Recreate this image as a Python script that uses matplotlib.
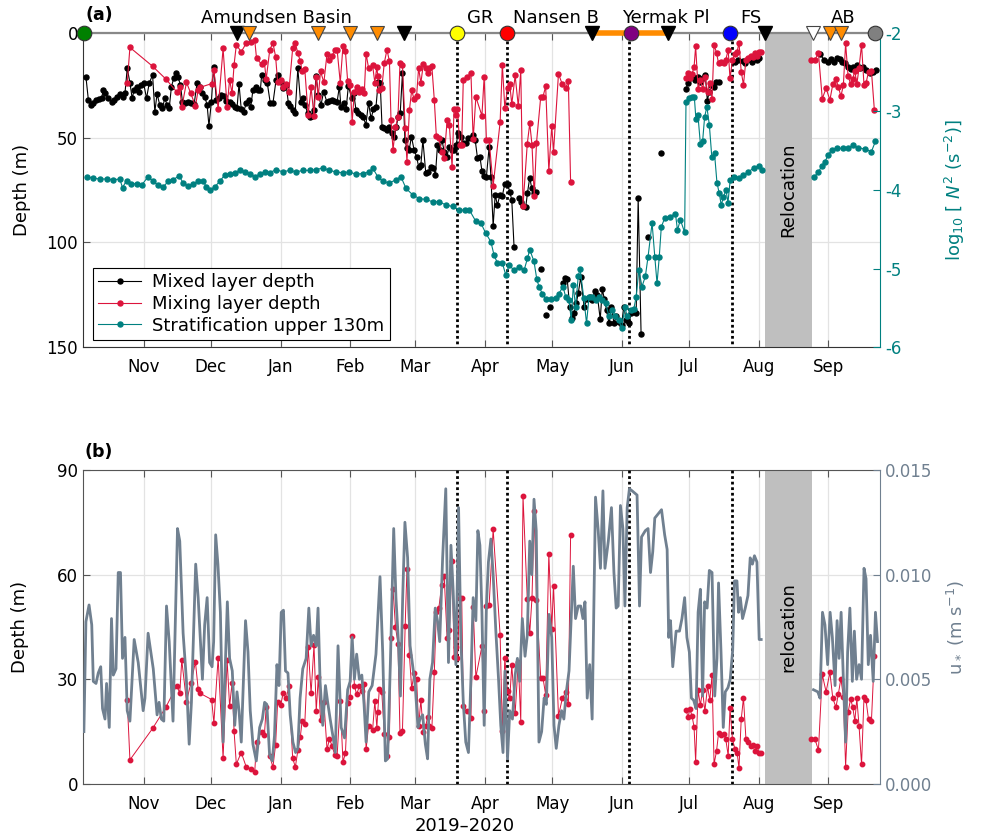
import numpy as np
import matplotlib
matplotlib.use('Agg')
import matplotlib.pyplot as plt
import matplotlib.dates as mdates
import matplotlib.transforms as mtransforms

plt.rcParams['font.family'] = ['DejaVu Sans']
plt.rcParams['axes.unicode_minus'] = False

nan = np.nan
T0 = np.datetime64('2019-10-05')
XLIM_DAYS = (0, 355)

# ---------------- data (day offsets from 2019-10-05) ----------------
mld_day = [1.3, 2.4, 3.4, 4.6, 5.8, 7.1, 8.3, 9.0, 9.8, 11.3, 12.7, 13.8, 15.0, 16.4, 17.6, 18.7, 19.7, 20.9,
           21.9, 22.8, 23.9, 25.0, 26.0, 27.0, 28.3, 29.5, 31.0, 32.0, 33.0, 34.2, 35.4, 36.4, 37.5, 38.4, 39.4,
           40.4, 41.3, 42.3, 43.4, 44.3, 45.5, 46.8, 48.3, 49.5, 50.8, 52.0, 53.2, 54.2, 55.3, 56.1, 57.2, 58.2,
           59.4, 60.6, 61.6, 62.8, 63.9, 65.3, 66.5, 67.6, 68.6, 69.5, 70.5, 71.6, 72.7, 73.8, 74.7, 75.7, 76.9,
           77.9, 79.0, 79.6, 80.9, 82.1, 83.4, 84.6, 86.0, 86.8, 88.0, 89.0, 90.5, 91.5, 92.4, 93.4, 94.5, 95.7,
           96.9, 97.9, 98.9, 100.1, 100.9, 101.9, 102.8, 103.8, 104.9, 106.0, 107.2, 108.6, 109.7, 110.8, 112.0,
           113.2, 114.2, 114.9, 116.1, 117.2, 118.2, 119.7, 120.6, 121.6, 122.6, 123.8, 124.9, 126.0, 127.2,
           128.3, 129.4, 130.5, 131.5, 132.4, 133.2, 134.2, 135.4, 136.4, 137.6, 138.6, 139.5, 140.4, 141.3,
           142.3, 143.4, 144.3, 145.3, 146.3, 147.5, 148.6, 149.5, 150.5, 151.4, 152.7, 153.7, 154.9, 156.1,
           157.0, 157.9, 158.9, 159.9, 160.9, 162.1, 163.1, 164.3, 165.3, 166.2, 167.1, 168.3, 169.3, 170.5,
           171.5, 172.7, 173.7, 174.7, 175.7, 176.8, 177.7, 178.7, 179.7, 180.9, 181.7, 182.7, 183.6, 184.6,
           185.7, 186.8, 187.9, 189.1, 190.1, 191.0, 192.0, 193.0, 194.0, 195.0, 196.0, 197.2, 198.0, 199.0,
           199.9, 200.9, 201.7, 203.0, 204.2, 205.0, 206.1, 207.0, 208.0, 210.0, 213.8, 214.7, 215.7, 216.8,
           217.7, 218.7, 219.7, 220.6, 221.7, 223.2, 224.6, 225.7, 226.9, 228.0, 229.1, 230.4, 231.3, 232.3,
           233.2, 234.3, 235.4, 236.5, 237.5, 238.7, 239.9, 240.9, 242.0, 243.1, 244.3, 245.4, 246.4, 247.3,
           248.6, 250.0, 251.7, 254.0, 257.6, 262.0, 268.6, 269.5, 270.5, 271.6, 272.8, 273.9, 275.0, 276.0,
           277.2, 278.1, 279.0, 279.9, 280.9, 281.9, 283.1, 285.0, 290.5, 291.8, 293.8, 295.0, 296.5, 297.9,
           299.0, 300.1, 301.2, 310.0, 328.3, 330.2, 331.7, 333.2, 334.7, 335.7, 337.2, 338.2, 339.4, 340.6,
           342.1, 343.1, 344.6, 346.1, 347.6, 349.0, 350.5, 352.0, 353.2]
mld_val = [20.9, 32.0, 34.4, 33.6, 32.0, 31.5, 31.2, 27.2, 28.8, 31.2, 32.8, 32.0, 30.4, 29.3, 30.4, 28.8, 16.9, 23.7,
           31.2, 27.2, 26.0, 28.0, 24.8, 24.0, 31.2, 24.0, 20.0, 37.6, 29.1, 34.4, 36.0, 31.2, 34.4, 36.0, 25.6,
           21.7, 19.0, 20.9, 24.8, 32.8, 33.6, 32.8, 33.6, 34.0, 24.0, 25.6, 28.8, 30.4, 34.4, 44.4, 32.8, 16.1,
           32.0, 31.2, 29.6, 30.1, 32.3, 32.8, 34.0, 35.2, 36.0, 24.4, 36.5, 37.6, 33.6, 32.0, 35.5, 27.2, 25.6,
           27.2, 27.2, 20.0, 22.5, 24.0, 33.3, 33.6, 22.5, 20.0, 23.2, 26.4, 24.8, 33.6, 34.9, 36.8, 38.4, 16.9,
           32.8, 31.2, 34.4, 38.4, 40.3, 39.6, 36.8, 20.5, 29.6, 34.4, 28.0, 32.8, 32.3, 32.0, 32.3,
           32.8, 25.6, 35.2, 33.3, 36.5, 25.3, 31.2, 28.8, 36.8, 38.0, 39.2, 40.3, 43.9, 33.3,
           40.8, 36.5, 35.5, 23.2, 24.0, 44.7, 45.5, 46.3, 45.1, 47.9, 49.5, 45.1, 40.0, 38.4,
           19.3, 51.1, 55.1, 55.9, 49.5, 55.9, 59.1, 63.9, 63.1, 51.1, 67.0, 66.2, 63.9, 64.6,
           67.8, 53.5, 55.9, 51.1, 56.7, 59.1, 54.3, 55.9, 55.9, 53.5, 47.9, 49.5, 52.7, 52.7,
           50.3, 50.3, 48.7, 51.1, 59.6, 59.1, 65.8, 68.2, 68.6, 54.6, 68.6, 92.2, 77.4, 82.2,
           77.4, 77.7, 72.1, 72.1, 75.8, 79.8, 102.0, nan, 79.0, 80.6, 82.5, 83.3, 76.3, 69.1,
           74.2, 76.6, 75.8, nan, 112.9, nan, 134.7, nan, 131.0, nan, 119.3, 117.2, 117.7, 130.7,
           136.3, 133.9, 129.1, 124.4, 116.7, 130.7, 127.2, 126.0, 127.5, 123.1, 125.2, 136.8, 122.5, 127.2,
           132.3, 138.7, 130.7, 138.7, 135.2, 137.9, 139.5, 130.7, 137.1, 138.7, 133.9, 132.6, 133.9, 79.0,
           144.0, nan, 97.3, nan, 57.4, nan, 26.8, 24.0, 21.7, 20.9, 22.5, 20.9, 23.3, 21.7,
           20.1, 32.3, 28.0, 24.8, 25.6, 23.6, 23.3, nan, 14.0, 13.0, 13.2, 14.5, 12.5, 13.7,
           12.0, 12.9, 12.0, nan, 10.2, 12.9, 13.7, 12.6, 13.7, 12.1, 12.6, 13.7, 14.5, 16.1,
           17.3, 16.1, 15.3, 16.9, 16.4, 17.7, 19.3, 18.5, 17.7]

mix_day = [19.7, 20.9, 31.0, 37.0, 41.8, 43.1, 44.0, 46.1, 48.0, 50.1, 51.3, 52.1, 57.3, 58.3, 60.2, 62.4, 64.2,
           65.3, 66.4, 67.3, 68.3, 70.5, 72.7, 74.8, 76.5, 77.3, 79.6, 80.8, 81.6, 83.2, 84.6, 85.8, 86.7, 88.0,
           89.2, 90.5, 91.7, 93.4, 94.6, 95.7, 96.8, 97.6, 98.8, 100.3, 101.6, 102.9, 103.9, 104.8, 105.8, 107.3,
           108.7, 109.8, 110.9, 112.2, 113.2, 114.6, 115.8, 116.9, 117.9, 119.0, 119.9, 120.9, 121.9, 123.1,
           124.2, 125.3, 126.1, 127.2, 129.0, 130.0, 130.9, 131.3, 132.0, 133.1, 134.2, 135.4, 136.5, 137.2,
           138.1, 139.2, 140.3, 141.2, 142.3, 143.5, 144.3, 145.4, 146.4, 147.5, 148.6, 149.5, 150.5, 151.6,
           152.7, 153.5, 154.3, 155.4, 156.5, 157.4, 158.5, 159.8, 160.9, 162.2, 163.2, 164.4, 165.3, 166.3,
           166.8, 167.8, 168.7, 169.4, 171.2, 172.8, 173.8, 175.0, 177.7, 178.7, 179.7, 180.9, 182.7, 185.8,
           186.8, 187.9, 189.1, 190.1, 191.0, 192.5, 193.9, 195.0, 196.0, 197.9, 199.0, 200.0, 201.0, 202.0,
           203.9, 204.9, 206.1, 207.5, 208.8, 209.6, 211.8, 213.5, 215.0, 216.2, 217.2, 240.0,
           268.6, 269.5, 270.3, 271.3, 272.2, 272.9, 274.0, 275.0, 276.0, 277.0, 278.2, 279.2, 280.2, 281.1,
           282.2, 283.1, 284.4, 285.4, 286.3, 287.4, 288.2, 289.3, 290.4, 291.4, 292.2, 293.2, 294.2, 295.3,
           296.3, 297.4, 298.5, 299.2, 300.2, 301.2, 301.9, 310.0,
           324.3, 326.0, 327.6, 329.3, 331.0, 332.7, 334.0, 335.4, 336.5, 337.6, 338.7, 339.7, 340.8, 341.9,
           342.9, 343.8, 344.7, 345.7, 346.8, 347.9, 348.8, 349.9, 351.2, 352.5]
mix_val = [24.0, 6.9, 15.9, 22.1, 28.2, 26.0, 35.5, 23.6, 28.8, 34.9, 27.2, 26.0, 24.2, 17.5, 36.2, 7.4, 35.5,
           22.3, 28.9, 15.1, 5.7, 9.0, 4.9, 4.3, 3.4, 12.1, 15.0, 13.9, 22.1, 8.0, 4.8, 11.3, 23.5, 22.5,
           26.0, 24.5, 28.0, 7.3, 4.9, 9.6, 13.5, 18.0, 17.3, 39.3, 26.0, 39.8, 20.8, 30.6, 18.3, 23.6,
           9.9, 12.9, 11.0, 8.2, 8.1, 23.7, 6.3, 8.8, 23.1, 25.0, 42.4, 28.1, 25.7, 28.0,
           26.6, 28.6, 9.9, 16.7, 15.5, 23.7, 16.1, 20.7, 27.1, 26.3, 14.4, 8.0, 13.5, 41.7,
           55.9, 45.0, 40.2, 14.5, 15.2, 45.2, 61.5, 36.9, 27.4, 31.7, 30.1, 16.6, 24.0, 14.8,
           16.6, 19.3, 16.5, 15.9, 32.2, 49.4, 50.4, 57.0, 59.5, 41.7, 44.0, 64.0, 36.3, 39.2,
           36.1, 53.4, 53.4, 22.3, 20.9, 19.0, 50.8, 30.6, 39.5, 20.8, 51.1, 51.2, 73.0, 42.7,
           15.1, 36.0, 26.5, 24.5, 34.0, 20.3, 35.0, 17.9, 82.5, 53.0, 43.2, 53.3, 78.1, 52.6,
           30.4, 30.4, 25.5, 66.0, 44.5, 56.7, 19.5, 24.5, 26.3, 23.0, 71.3, nan,
           21.3, 19.1, 21.5, 19.5, 16.3, 6.4, 26.8, 22.6, 26.8, 20.8, 28.0, 24.0, 31.3, 5.7,
           9.4, 14.5, 13.9, 14.3, 12.9, 8.1, 21.7, 12.9, 10.0, 8.9, 4.6, 18.5, 24.7, 12.9,
           12.0, 11.0, 11.3, 9.4, 11.0, 9.0, 9.0, nan,
           12.9, 12.9, 9.7, 31.4, 26.4, 32.0, 24.5, 22.0, 25.9, 30.2, 25.0, 5.0, 20.5, 24.3,
           22.0, 18.0, 24.5, 16.5, 5.6, 25.0, 24.0, 18.5, 18.0, 36.7]

n2_day = [1.6, 4.6, 7.6, 10.5, 13.5, 16.4, 17.6, 19.4, 21.6, 23.9, 26.1, 29.0, 31.3, 33.5, 35.7, 38.0, 40.1, 42.8,
          44.6, 46.8, 49.0, 51.3, 53.5, 55.0, 56.4, 58.7, 60.9, 63.1, 65.3, 67.6, 69.8, 72.0, 74.2, 76.4, 78.7,
          80.9, 83.1, 86.1, 89.0, 92.0, 95.0, 97.9, 100.9, 103.9, 106.8, 109.8, 112.7, 115.7, 118.7, 121.6,
          124.6, 127.6, 129.0, 131.3, 133.5, 136.4, 139.4, 141.6, 143.9, 146.8, 149.8, 152.7, 155.7, 158.7,
          161.6, 164.6, 167.6, 170.0, 172.0, 175.0, 177.2, 179.4, 181.7, 183.1, 184.6, 186.8, 188.3, 189.8,
          192.0, 194.3, 196.5, 198.0, 199.0, 200.9, 202.1, 203.1, 204.6, 206.1, 208.3, 210.6, 212.0, 213.8,
          215.0, 216.5, 217.5, 218.4, 219.4, 220.6, 221.4, 223.1, 224.3, 225.4, 226.9, 228.3, 229.8, 231.3,
          232.8, 234.3, 235.7, 237.2, 238.7, 239.9, 241.4, 242.4, 243.9, 245.4, 246.4, 247.6, 249.0, 250.5,
          251.7, 253.5, 254.7, 255.7, 256.7, 257.6, 259.1, 261.6, 263.9, 264.8, 266.1, 268.0, 268.6, 269.8,
          271.2, 272.3, 273.0, 273.9, 275.0, 276.0, 276.9, 277.9, 279.0, 280.1, 281.3, 282.4, 283.4, 284.3,
          285.3, 286.4, 287.3, 288.3, 289.8, 292.0, 294.2, 296.4, 298.7, 300.9, 302.4, 314.0,
          325.8, 327.6, 329.0, 330.5, 332.0, 333.5, 335.7, 338.7, 340.9, 343.1, 345.3, 348.3, 351.2, 353.0]
n2_val = [-3.83, -3.85, -3.86, -3.86, -3.87, -3.86, -3.97, -3.88, -3.92, -3.92, -3.94, -3.83, -3.89, -3.94, -3.96,
          -3.89, -3.87, -3.82, -3.91, -3.95, -3.92, -3.89, -3.89, -3.96, -4.00, -3.96, -3.89, -3.81, -3.80, -3.78,
          -3.75, -3.77, -3.79, -3.83, -3.80, -3.77, -3.78, -3.74, -3.77, -3.75, -3.77, -3.75, -3.75, -3.74, -3.72,
          -3.75, -3.77, -3.78, -3.77, -3.80, -3.79, -3.77, -3.72, -3.83, -3.89, -3.91, -3.87, -3.83, -3.98, -4.06,
          -4.11, -4.12, -4.15, -4.15, -4.19, -4.21, -4.25, -4.26, -4.25, -4.40, -4.42, -4.55, -4.66, -4.83, -4.93,
          -4.93, -5.08, -4.96, -5.02, -4.98, -5.02, -4.87, -4.76, -4.91, -5.13, -5.23, -5.32, -5.39, -5.39, -5.38,
          -5.32, -5.23, -5.36, -5.40, -5.66, -5.21, -5.49, -5.10, -5.00, -5.38, -5.70, -5.36, -5.36, -5.40, -5.36,
          -5.40, -5.44, -5.61, -5.53, -5.61, -5.66, -5.76, -5.49, -5.61, -5.53, -5.51, -5.36, -5.02, -5.23, -5.10,
          -4.85, -4.42, -4.85, -5.19, -4.85, -4.47, -4.36, -4.34, -4.30, -4.51, -4.38, -4.54, -2.88, -2.83,
          -2.81, -2.81, -3.09, -3.04, -3.41, -3.38, -3.07, -2.94, -3.17, -3.58, -3.53, -3.91, -4.04, -4.19,
          -4.09, -4.00, -4.16, -3.87, -3.83, -3.85, -3.81, -3.77, -3.72, -3.69, -3.74, nan,
          -3.83, -3.77, -3.70, -3.64, -3.55, -3.49, -3.47, -3.47, -3.46, -3.43, -3.46, -3.48, -3.51, -3.38]

ustar_day = [0.4, 1.3, 2.7, 3.9, 4.6, 5.8, 6.8, 7.9, 8.7, 9.8, 10.5, 11.7, 12.7, 13.5, 14.7, 15.7, 16.7, 17.6,
             18.7, 19.7, 20.9, 22.8, 24.6, 26.8, 27.6, 29.0, 31.3, 33.0, 33.9, 34.9, 36.0, 37.2, 38.4, 40.1,
             42.1, 43.1, 44.6, 46.1, 47.3, 48.3, 50.2, 51.3, 53.2, 54.2, 55.3, 56.4, 57.5, 58.2, 59.1, 60.1,
             61.2, 62.4, 63.4, 64.3, 65.3, 66.5, 67.6, 68.6, 69.5, 70.5, 71.6, 72.4, 73.5, 74.5, 75.7, 77.2,
             78.7, 79.9, 80.9, 81.9, 83.1, 84.3, 85.3, 86.4, 87.3, 88.3, 89.3, 90.2, 91.3, 92.3, 93.5, 94.7,
             95.7, 96.7, 97.9, 99.4, 100.6, 101.6, 102.7, 103.9, 104.7, 105.6, 106.8, 108.0, 109.0, 110.1,
             111.3, 112.4, 113.6, 115.0, 116.5, 117.9, 119.0, 119.9, 120.9, 121.9, 123.1, 124.2, 125.2, 126.1,
             127.3, 128.8, 130.5, 132.3, 133.5, 134.7, 135.7, 136.9, 138.4, 139.4, 140.5, 141.4, 142.4, 143.4,
             144.6, 145.7, 146.8, 148.0, 149.2, 150.1, 151.3, 152.5, 153.5, 154.5, 155.7, 156.9, 157.9, 158.9,
             160.2, 161.6, 162.8, 163.9, 164.9, 166.1, 167.3, 168.3, 169.4, 170.5, 171.7, 172.8, 173.8, 175.0,
             175.9, 176.8, 177.7, 178.7, 179.7, 180.6, 181.7, 182.7, 183.9, 185.1, 186.1, 187.1, 188.0, 189.1,
             190.1, 191.3, 192.5, 193.5, 194.5, 195.7, 196.9, 197.9, 199.0, 199.9, 200.9, 201.9, 203.1, 204.3,
             205.4, 206.4, 207.6, 208.8, 209.8, 210.8, 212.0, 213.2, 214.2, 215.3, 216.5, 217.7, 218.4, 219.4,
             220.6, 221.7, 222.7, 223.6, 224.6, 225.7, 226.8, 228.3, 229.5, 230.5, 231.6, 232.5, 234.0, 235.4,
             236.5, 237.5, 238.4, 239.4, 240.5, 241.4, 242.4, 243.4, 244.6, 246.8, 247.9, 248.8, 250.5, 251.7,
             252.8, 253.8, 254.7, 257.7, 259.1, 260.2, 260.9, 261.7, 262.7, 264.2, 265.7, 266.8, 268.0, 269.0,
             270.1, 271.0, 272.0, 273.1, 274.0, 275.0, 276.0, 276.9, 278.0, 279.0, 280.2, 281.4, 282.4, 283.1,
             284.2, 285.2, 286.1, 287.3, 288.3, 289.4, 290.2, 291.3, 292.0, 292.8, 293.8, 295.0, 296.2, 297.2,
             298.2, 299.1, 300.2, 301.2, 302.1, 310.0, 325.4, 327.3, 328.3, 329.4, 330.5, 331.7, 332.8, 333.8,
             335.0, 335.9, 336.8, 337.7, 338.7, 339.7, 340.6, 341.6, 342.7, 343.6, 344.6, 345.7, 346.8, 347.9,
             348.8, 349.8, 350.8, 352.0, 353.0, 353.9]
ustar_val = [.0025, .00775, .00855, .0076, .0049, .0048, .0053, .0056, .0036, .0031, .0048, .0027, .0079, .0052,
             .0055, .0101, .0101, .0060, .0070, .0035, .0030, .0069, .0058, .0035, .0041, .0072, .0055, .0033,
             .0039, .0031, .0030, .0085, .0068, .0030, .0122, .0116, .0072, .0049, .0019, .0039, .0105, .0089,
             .0050, .0076, .0089, .0058, .0056, .0068, .0119, .0105, .0082, .0020, .0057, .0087, .0060, .0054,
             .0028, .0044, .0035, .0020, .0054, .0078, .0063, .0035, .0019, .0011, .0027, .0031, .0039, .0038,
             .0014, .0011, .0023, .0057, .0047, .0082, .0083, .0054, .0053, .0033, .0020, .0015, .0017, .0041,
             .0055, .0060, .0084, .0066, .0071, .0066, .0084, .0049, .0028, .0047, .0039, .0031, .0023, .0015,
             .0066, .0027, .0022, .0045, .0049, .0070, .0050, .0062, .0050, .0052, .0038, .0020, .0044, .0047,
             .0062, .0099, .0063, .0011, .0012, .0057, .0122, .0089, .0068, .0042, .0089, .0125, .0108, .0066,
             .0057, .0047, .0027, .0031, .0033, .0019, .0012, .0050, .0058, .0084, .0078, .0068, .0108, .0141,
             .0058, .0114, .0092, .0057, .0132, .0070, .0039, .0020, .0015, .0050, .0089, .0078, .0121, .0114,
             .0082, .0028, .0085, .0106, .0117, .0100, .0073, .0050, .0028, .0015, .0054, .0012, .0035, .0031,
             .0052, .0060, .0049, .0079, .0061, .0071, .0116, .0100, .0136, .0121, .0020, .0025, .0041, .0038,
             .0081, .0070, .0028, .0017, .0028, .0035, .0031, .0044, .0054, .0085, .0104, .0079, .0085, .0085,
             .0079, .0087, .0041, .0057, .0031, .0137, .0121, .0103, .0140, .0103, .0116, .0132, .0101, .0084,
             .0085, .0133, .0122, .0085, .0132, .0141, .0140, .0138, .0085, .0118, .0121, .0122, .0101, .0111,
             .0127, .0131, .0119, .0112, .0070, .0078, .0056, .0073, .0073, .0079, .0089, .0070, .0063, .0041,
             .0040, .0036, .0082, .0093, .0042, .0087, .0084, .0102, .0101, .0042, .0060, .0096, .0063, .0027,
             .0044, .0046, .0050, .0064, .0097, .0097, .0082, .0089, .0079, .0084, .0090, .0108, .0105, .0109,
             .0106, .0069, .0069, nan, .0045, .0044, .0041, .0082, .0076, .0057, .0082, .0070, .0047, .0078,
             .0060, .0082, .0050, .0020, .0063, .0084, .0049, .0073, .0050, .0057, .0050, .0103, .0098, .0057,
             .0071, .0049, .0082, .0068]

# events along the drift
circle_day = [0.4, 166.7, 188.9, 244.0, 288.4, 352.9]
circle_col = ['#008000', '#ffff00', '#ff0000', '#800080', '#0000ff', '#808080']
tri_black_day = [68.4, 143.1, 226.7, 260.4, 303.6]
tri_orange_day = [73.8, 104.9, 119.1, 131.1, 332.9, 337.8]
tri_white_day = [325.3]
orange_bar_days = [226.7, 260.4]
dotted_days = [166.7, 188.9, 243.1, 288.9]
relocation_days = [303.6, 324.9]
region_labels = ['Amundsen Basin', 'GR', 'Nansen B', 'Yermak Pl', 'FS', 'AB']
region_days = [86.2, 177.0, 210.7, 259.6, 297.3, 338.7]

TEAL = '#008080'
CRIMSON = '#dc143c'
SLATE = '#708090'
ORANGE = '#ff8c00'


def dn(days):
    return mdates.date2num(T0) + np.asarray(days, dtype=float)


fig = plt.figure(figsize=(9.81, 8.39), dpi=100)
axa = fig.add_axes([0.0846, 0.5864, 0.8124, 0.3743])
axb = fig.add_axes([0.0846, 0.0656, 0.8124, 0.3743])

for ax in (axa, axb):
    ax.set_xlim(dn(XLIM_DAYS[0]), dn(XLIM_DAYS[1]))
    ax.xaxis.set_major_locator(mdates.MonthLocator())
    ax.xaxis.set_major_formatter(mdates.DateFormatter('%b'))
    ax.grid(True, color='#e3e3e3', lw=0.9)
    ax.set_axisbelow(True)
    ax.tick_params(axis='both', direction='in', labelsize=12, length=5, top=True, width=0.8,
                   color='#555555')
    ax.tick_params(axis='x', pad=8)
    ax.spines['right'].set_visible(False)

# ---------------- panel a ----------------
axa.set_ylim(150, 0)
axa.set_yticks([0, 50, 100, 150])
axa.set_ylabel('Depth (m)', fontsize=13, labelpad=11)
axa.spines['top'].set_color('#888888')
axa.spines['top'].set_linewidth(1.6)
axa.spines['left'].set_color('#333333')
axa.spines['bottom'].set_color('#333333')

axa.axvspan(dn(relocation_days[0]), dn(relocation_days[1]), color='#bfbfbf', zorder=1, lw=0)
axa.text(dn(np.mean(relocation_days)), 75, 'Relocation', rotation=90, ha='center', va='center', fontsize=13)
for d in dotted_days:
    axa.vlines(dn(d), 4, 150, colors='black', linestyles=(0, (1, 1)), lw=2, zorder=3)

l_mld, = axa.plot(dn(mld_day), mld_val, '-', color='black', lw=0.8, marker='o', ms=3.6, zorder=4)
l_mix, = axa.plot(dn(mix_day), mix_val, '-', color=CRIMSON, lw=0.8, marker='o', ms=3.6, zorder=4)

axr = axa.twinx()
axr.set_ylim(-6, -2)
axr.set_yticks([-2, -3, -4, -5, -6])
axr.tick_params(axis='y', direction='in', labelsize=12, colors=TEAL, length=5)
for s in ('top', 'left', 'bottom'):
    axr.spines[s].set_visible(False)
axr.spines['right'].set_color(TEAL)
axr.set_ylabel(r'log$_{10}$ [ $N^2$ (s$^{-2}$)]', fontsize=13, color=TEAL, labelpad=30)
l_n2, = axr.plot(dn(n2_day), n2_val, '-', color=TEAL, lw=0.8, marker='o', ms=3.6, zorder=3)

# event markers along the top
axr.plot(dn(orange_bar_days), [-2, -2], color=ORANGE, lw=4, clip_on=False, zorder=5,
         solid_capstyle='butt')
for d in tri_black_day:
    axr.plot(dn(d), -2, marker='v', ms=10, mfc='black', mec='black', clip_on=False, zorder=6)
for d in tri_orange_day:
    axr.plot(dn(d), -2, marker='v', ms=10, mfc=ORANGE, mec='#444444', mew=0.8, clip_on=False, zorder=6)
for d in tri_white_day:
    axr.plot(dn(d), -2, marker='v', ms=10, mfc='white', mec='#444444', mew=0.8, clip_on=False, zorder=6)
for d, c in zip(circle_day, circle_col):
    axr.plot(dn(d), -2, marker='o', ms=10.5, mfc=c, mec='#333333', mew=0.8, clip_on=False, zorder=7)

blend = mtransforms.blended_transform_factory(axa.transData, axa.transAxes)
for lab, d in zip(region_labels, region_days):
    axa.text(dn(d), 1.048, lab, transform=blend, ha='center', va='center', fontsize=13)

leg = axr.legend([l_mld, l_mix, l_n2],
                 ['Mixed layer depth', 'Mixing layer depth', 'Stratification upper 130m'],
                 loc='lower left', bbox_to_anchor=(0.012, 0.022), borderaxespad=0, fontsize=13,
                 frameon=True, fancybox=False, edgecolor='black', framealpha=1, handlelength=2.4,
                 borderpad=0.3, labelspacing=0.2, handletextpad=0.6)
leg.get_frame().set_linewidth(0.8)

# ---------------- panel b ----------------
axb.set_ylim(0, 90)
axb.set_yticks([0, 30, 60, 90])
axb.set_ylabel('Depth (m)', fontsize=13, labelpad=20)
for s in ('top', 'left', 'bottom'):
    axb.spines[s].set_color('#555555')
axb.axvspan(dn(relocation_days[0]), dn(relocation_days[1]), color='#bfbfbf', zorder=1, lw=0)
axb.text(dn(np.mean(relocation_days)), 45, 'relocation', rotation=90, ha='center', va='center', fontsize=13)
for d in dotted_days:
    axb.axvline(dn(d), color='black', linestyle=(0, (1, 1)), lw=2, zorder=3)
axb.plot(dn(mix_day), mix_val, '-', color=CRIMSON, lw=0.7, marker='o', ms=3.2, zorder=4)

axbr = axb.twinx()
axbr.set_ylim(0, 0.015)
axbr.set_yticks([0, 0.005, 0.010, 0.015])
axbr.set_yticklabels(['0.000', '0.005', '0.010', '0.015'])
axbr.tick_params(axis='y', direction='in', labelsize=12, colors=SLATE, length=5)
for s in ('top', 'left', 'bottom'):
    axbr.spines[s].set_visible(False)
axbr.spines['right'].set_color(SLATE)
axbr.set_ylabel(r'u$_*$ (m s$^{-1}$)', fontsize=13, color=SLATE, labelpad=9)
axbr.plot(dn(ustar_day), ustar_val, '-', color=SLATE, lw=2.0, zorder=3)

fig.text(99 / 981, 1 - 15 / 839, '(a)', fontsize=12.5, fontweight='bold', ha='center', va='center')
fig.text(99 / 981, 1 - 452 / 839, '(b)', fontsize=12.5, fontweight='bold', ha='center', va='center')
fig.text(465 / 981, 1 - 826 / 839, '2019\u20132020', fontsize=13, ha='center', va='center')

fig.savefig('out.png', dpi=100)
